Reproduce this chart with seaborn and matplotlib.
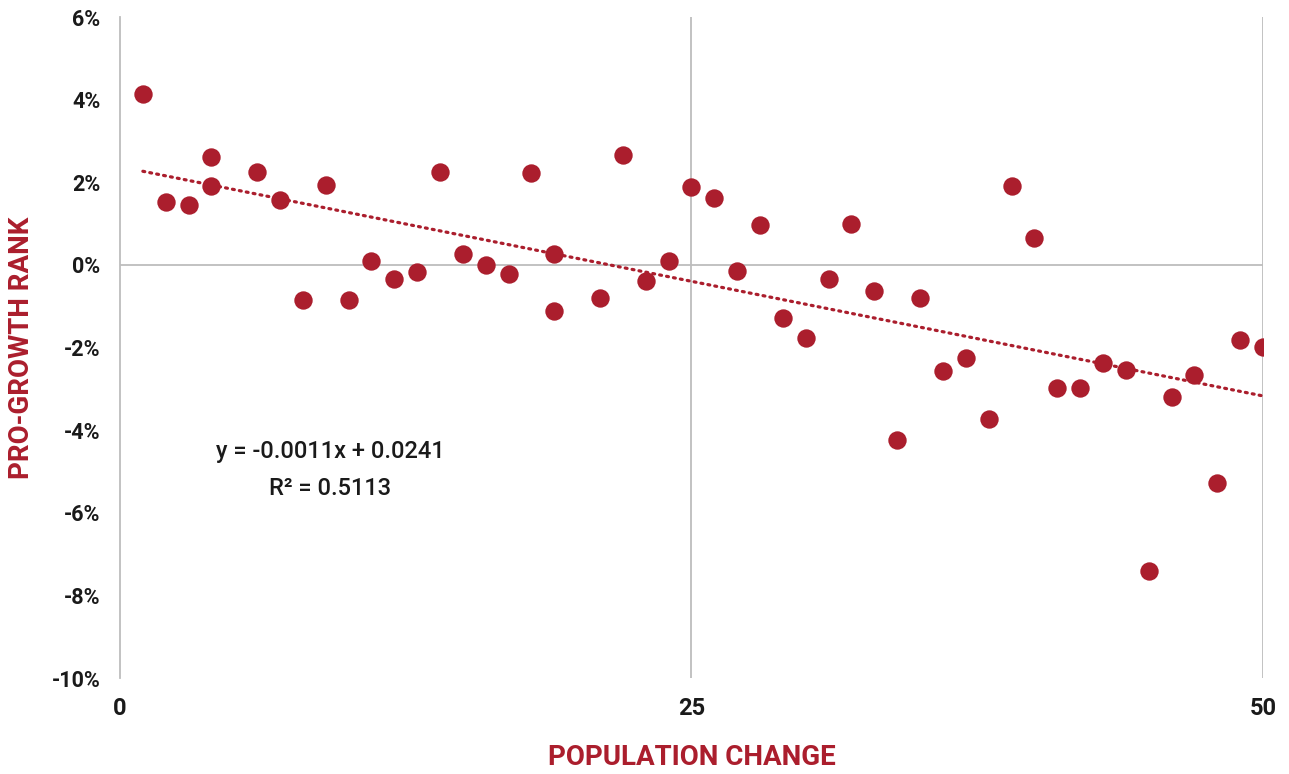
import numpy as np
import pandas as pd
import matplotlib
matplotlib.use("Agg")
import matplotlib.pyplot as plt
from matplotlib.ticker import FuncFormatter
import seaborn as sns

# population change rank vs pro-growth rank
pop_change = [1, 2, 3, 4, 4, 6, 7, 8, 9, 10, 11, 12, 13, 14, 15, 16, 17, 18,
              19, 19, 21, 22, 23, 24, 25, 26, 27, 28, 29, 30, 31, 32, 33, 34,
              35, 36, 37, 38, 39, 40, 41, 42, 43, 44, 45, 46, 47, 48, 49, 50]
pro_growth = [4.14, 1.52, 1.44, 2.62, 1.90, 2.26, 1.56, -0.84, 1.94, -0.84,
              0.09, -0.34, -0.16, 2.26, 0.26, 0.00, -0.21, 2.23, 0.27, -1.12,
              -0.81, 2.65, -0.39, 0.09, 1.89, 1.61, -0.14, 0.97, -1.28, -1.77,
              -0.33, 0.99, -0.64, -4.23, -0.81, -2.57, -2.26, -3.72, 1.90, 0.64,
              -2.97, -2.97, -2.37, -2.55, -7.41, -3.19, -2.66, -5.27, -1.81, -1.98]

equation = "y = -0.0011x + 0.0241"
r_squared = "R² = 0.5113"

RED = "#AB1E2D"
GRID = "#BDBDBD"

df = pd.DataFrame({"pop": pop_change, "rank": np.array(pro_growth) / 100})

sns.set_theme(style="white")
plt.rcParams["font.family"] = ["Roboto", "DejaVu Sans"]
plt.rcParams["axes.unicode_minus"] = False

fig = plt.figure(figsize=(12.89, 7.74), dpi=100)
ax = fig.add_axes([0.0931, 0.124, 0.8867, 0.854])

ax.axhline(0, color=GRID, lw=1.3, zorder=0)
for xv in [25, 50]:
    ax.axvline(xv, color=GRID, lw=1.3, zorder=0)

sns.regplot(data=df, x="pop", y="rank", scatter=False, ci=None, ax=ax,
            line_kws=dict(color=RED, lw=2.3, linestyle=(0, (0.6, 1.6)),
                          dash_capstyle="round"))
sns.scatterplot(data=df, x="pop", y="rank", ax=ax, color=RED, s=175,
                linewidth=0, zorder=3)

ax.set_xlim(0, 50)
ax.set_ylim(-0.10, 0.06)
ax.set_xticks([0, 25, 50])
ax.set_yticks(np.arange(-0.10, 0.061, 0.02))
ax.yaxis.set_major_formatter(FuncFormatter(lambda v, p: f"{v * 100:.0f}%"))

for side in ["top", "right", "bottom"]:
    ax.spines[side].set_visible(False)
ax.spines["left"].set_color(GRID)
ax.spines["left"].set_linewidth(1.3)

ax.tick_params(axis="both", length=0, colors="#1a1a1a")
ax.tick_params(axis="y", pad=14, labelsize=15.5)
ax.tick_params(axis="x", pad=14, labelsize=17)
for lbl in ax.get_xticklabels() + ax.get_yticklabels():
    lbl.set_fontweight("bold")

ax.set_xlabel("POPULATION CHANGE", color=RED, fontsize=20, fontweight="bold")
ax.set_ylabel("PRO-GROWTH RANK", color=RED, fontsize=20, fontweight="bold")
ax.xaxis.set_label_coords(0.5, -0.1)
ax.yaxis.set_label_coords(-0.074, 0.5)

ax.text(9.2, -0.0452, equation, ha="center", va="center", fontsize=17,
        fontweight="medium", color="#1a1a1a")
ax.text(9.2, -0.0541, r_squared, ha="center", va="center", fontsize=17,
        fontweight="medium", color="#1a1a1a")

fig.savefig("out.png", dpi=100)
